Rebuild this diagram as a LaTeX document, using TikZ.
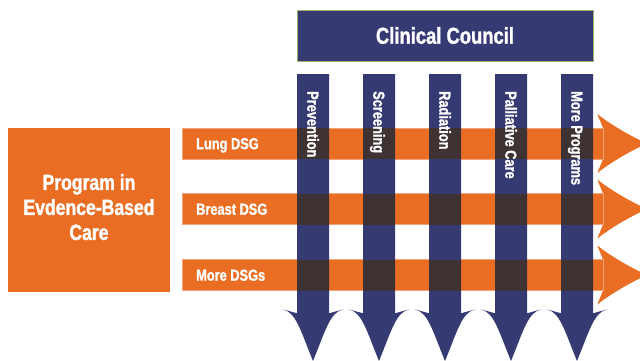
\documentclass[tikz,border=0pt]{standalone}
\usepackage{fontspec}
\setmainfont{Liberation Sans}[FakeStretch=0.8,
  BoldFont={Liberation Sans Bold}, BoldFeatures={FakeStretch=0.8,FakeBold=1.3}]
\definecolor{orng}{HTML}{E96D23}
\definecolor{orngl}{HTML}{F2A57A}
\definecolor{navy}{HTML}{353B72}
\definecolor{dark}{HTML}{3F3233}
\definecolor{olive}{HTML}{9DB06A}
\begin{document}
\begin{tikzpicture}[x=1pt,y=-1pt,
  wlbl/.style={text=white,font=\bfseries\fontsize{16}{19}\selectfont,inner sep=0pt},
  bigtxt/.style={text=white,font=\bfseries\fontsize{22}{25}\selectfont,inner sep=0pt,align=center},
  barfill/.style={fill=orng},
  colfill/.style={fill=navy},
  overlap/.style={fill=dark}]
\useasboundingbox (0,0) rectangle (640,360);
% horizontal arrows (DSGs)
\foreach \cy in {143.5,209,275} {
  \fill[barfill] (182,\cy-15.5) -- (603,\cy-15.5) -- (597.3,\cy-29.5)
    .. controls (609.3,\cy-20) and (627.3,\cy-9) .. (647,\cy)
    .. controls (627.3,\cy+9) and (609.3,\cy+20) .. (597.3,\cy+29.5)
    -- (603,\cy+15.5) -- (182,\cy+15.5) -- cycle;
  \draw[orngl, line width=0.5pt] (182,\cy-15.5) rectangle (603,\cy+15.5);
}
% vertical arrows (programs)
\foreach \k in {0,...,4} {
  \pgfmathsetmacro\cx{313+66*\k}
  \fill[colfill] (\cx-16,74) -- (\cx+16,74) -- (\cx+16,313.3) -- (\cx+30.3,309.3)
    .. controls (\cx+17,312.3) and (\cx+13,329.3) .. (\cx,361)
    .. controls (\cx-13,329.3) and (\cx-17,312.3) .. (\cx-30.3,309.3)
    -- (\cx-16,313.3) -- cycle;
  \foreach \cy in {143.5,209,275} {
    \fill[overlap] (\cx-16,\cy-15.5) rectangle (\cx+16,\cy+15.5);
  }
}
% column labels
\foreach \t [count=\k from 0] in {Prevention,Screening,Radiation,Palliative Care,More Programs} {
  \pgfmathsetmacro\cx{313+66*\k}
  \node[wlbl, rotate=-90, anchor=base west] (col\k) at (\cx-5.7,91) {\t};
}
% DSG labels
\node[wlbl, anchor=base west] (lung) at (196,149.2) {Lung DSG};
\node[wlbl, anchor=base west] (breast) at (196,214.7) {Breast DSG};
\node[wlbl, anchor=base west] (moredsg) at (196,280.7) {More DSGs};
% Clinical Council
\node[fill=navy, draw=olive, line width=0.8pt, minimum width=296pt, minimum height=51pt,
  inner sep=0pt, text=white, font=\bfseries\fontsize{23}{26}\selectfont] (council) at (445,35.5) {Clinical Council};
% Program box
\node[fill=orng, minimum width=162pt, minimum height=164pt, inner sep=0pt] (prog) at (89,210) {};
\node[bigtxt] (progtxt) at (89,207.1) {Program in\\Evdence-Based\\Care};
\end{tikzpicture}
\end{document}
